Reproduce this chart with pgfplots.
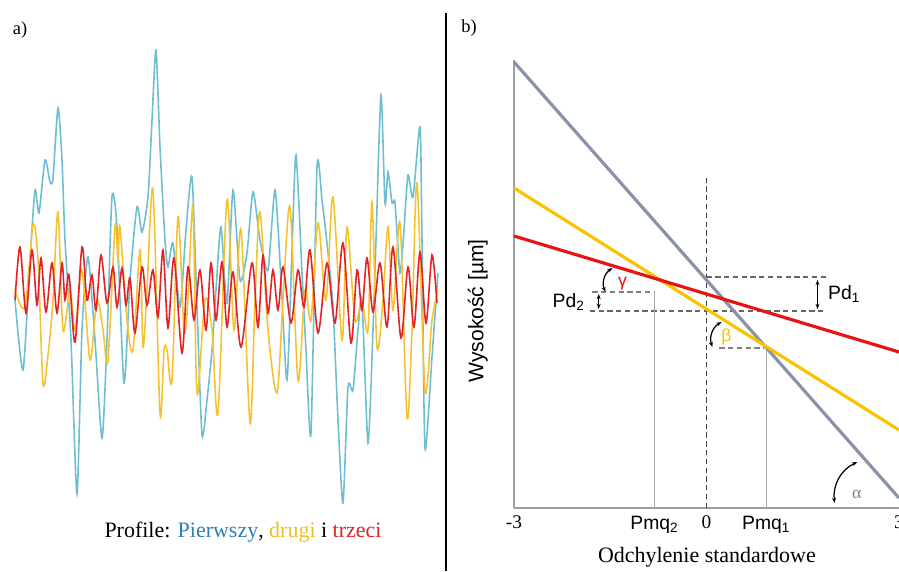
\documentclass[border=0pt]{standalone}
\usepackage{pgfplots}
\pgfplotsset{compat=1.18}
\usepackage{fontspec}
\setmainfont{Liberation Serif}
\setsansfont{Liberation Sans}
\usetikzlibrary{arrows.meta}

\definecolor{pblue}{RGB}{110,190,210}
\definecolor{pyellow}{RGB}{245,195,50}
\definecolor{pred}{RGB}{225,35,40}
\definecolor{tblue}{RGB}{45,125,185}
\definecolor{tyellow}{RGB}{240,190,40}
\definecolor{lgrey}{RGB}{138,146,168}
\definecolor{lyellow}{RGB}{250,195,0}
\definecolor{lred}{RGB}{230,20,20}

\begin{document}
\begin{tikzpicture}
\useasboundingbox (0,0) rectangle (17.98,11.42);
\clip (0,0) rectangle (17.98,11.42);

% panel a) -- pixel-like coordinates, y downwards
\begin{axis}[
    at={(0,0)}, anchor=south west,
    scale only axis, width=9cm, height=11.42cm,
    xmin=0, xmax=450, ymin=0, ymax=571, y dir=reverse,
    hide axis, clip=false
]
\addplot[pblue, line width=0.9pt, smooth, tension=0.4] coordinates {
(15,300) (23,370) (30,260) (35,190) (39,213) (45,160) (50,182) (53,178) (58,108)
(62,160) (65,240) (71,340) (77,494) (82,330) (88,257) (95,340) (102,438) (107,340)
(112,197) (117,227) (124,383) (130,280) (137,207) (142,232) (148,197) (152,120)
(156,50) (160,147) (165,240) (168,267) (173,243) (180,307) (186,230) (192,177)
(197,307) (202,435) (207,400) (212,350) (216,290) (221,227) (227,303) (233,190)
(240,280) (247,253) (253,192) (260,240) (268,270) (275,190) (281,280) (287,380)
(292,250) (296,155) (302,273) (306,350) (311,433) (317,167) (322,200) (327,243)
(333,307) (338,420) (343,503) (348,387) (353,390) (358,330) (362,300) (368,443)
(373,330) (376,240) (381,95) (385,203) (388,172) (392,203) (395,203) (400,273)
(404,230) (408,175) (413,197) (420,127) (422,240) (425,448) (432,357) (438,273)
};
\addplot[pyellow, line width=0.9pt, smooth, tension=0.5] coordinates {
(15,290) (25,307) (33,225) (38,260) (43,383) (48,355) (53,300) (58,212) (63,330)
(70,290) (75,330) (82,270) (90,360) (97,300) (103,330) (108,360) (115,227) (118,260)
(120,227) (127,320) (133,350) (140,250) (143,347) (147,290) (153,190) (160,413)
(164,350) (167,350) (172,380) (178,217) (184,330) (188,300) (193,207) (197,393)
(205,300) (212,330) (218,413) (227,200) (234,330) (241,230) (250,423) (255,300)
(260,212) (268,330) (277,393) (283,300) (290,207) (298,380) (305,290) (311,320)
(318,223) (326,300) (333,197) (342,340) (347,227) (355,320) (362,300) (368,330)
(372,202) (377,347) (383,300) (388,227) (393,310) (400,223) (407,417) (412,330)
(417,183) (425,390) (432,320) (438,290)
};
\addplot[pred, line width=0.9pt, smooth, tension=0.5] coordinates {
(15,300) (20,247) (26,313) (32,250) (37,305) (41,258) (46,312) (52,263) (57,313)
(62,263) (65,300) (69,275) (75,342) (82,247) (87,300) (92,275) (96,310) (101,255)
(107,303) (113,267) (117,307) (122,268) (126,305) (130,278) (135,333) (142,267)
(147,305) (153,270) (158,317) (163,250) (168,328) (174,258) (182,353) (188,267)
(194,320) (200,270) (206,330) (211,263) (216,320) (222,262) (227,327) (233,272)
(241,347) (252,263) (258,327) (263,255) (268,313) (273,270) (278,310) (283,267)
(291,323) (298,270) (304,307) (310,250) (318,333) (327,263) (335,323) (343,243)
(351,343) (357,270) (362,310) (367,258) (373,312) (380,263) (387,327) (393,247)
(401,338) (408,267) (414,327) (420,252) (426,323) (432,255) (437,303)
};
\node[font=\fontsize{10.5}{12}\selectfont] at (axis cs:20,30) {a)};
\node[font=\fontsize{12.5}{15}\selectfont] at (axis cs:243,532)
  {Profile: \textcolor{tblue}{Pierwszy}, \textcolor{tyellow}{drugi} i \textcolor{pred}{trzeci}};
\draw[black, line width=0.7pt] (axis cs:446,13) -- (axis cs:446,571);
\node[font=\fontsize{10.5}{12}\selectfont] at (axis cs:469,28) {b)};
\end{axis}

% panel b)
\begin{axis}[
    at={(10.28cm,1.26cm)}, anchor=south west,
    scale only axis, width=7.70cm, height=8.96cm,
    xmin=-3, xmax=3, ymin=0, ymax=4.48,
    axis x line=bottom, axis y line=left,
    axis line style={-, draw=gray!75, line width=1pt},
    ytick=\empty,
    xtick={-3,-0.81,0,0.93,3},
    xticklabels={{\raisebox{-3pt}{-3}},{\sffamily Pmq\textsubscript{2}},{\raisebox{-3pt}{0}},{\sffamily Pmq\textsubscript{1}},{\raisebox{-3pt}{3}}},
    xticklabel style={font=\fontsize{11}{13}\selectfont, anchor=north, yshift=-1pt},
    major tick length=0pt,
    xlabel={Odchylenie standardowe},
    xlabel style={at={(axis description cs:0.501,-0.109)}, anchor=center,
                  font=\rmfamily\fontsize{12.5}{15}\selectfont},
    ylabel={Wysokość [µm]},
    ylabel style={at={(axis description cs:-0.094,0.44)}, anchor=center,
                  font=\sffamily\fontsize{12}{14}\selectfont},
    clip=false
]
% guide lines
\addplot[black!75, densely dashed, line width=0.6pt] coordinates {(0,0) (0,3.32)};
\addplot[black!60, densely dashed, line width=0.6pt] coordinates {(0,2.31) (1.87,2.31)};
\addplot[black!60, densely dashed, line width=0.6pt] coordinates {(-1.82,1.97) (1.87,1.97)};
\addplot[black!50, densely dashed, line width=0.6pt] coordinates {(-1.78,2.16) (-0.81,2.16)};
\addplot[black!50, densely dashed, line width=0.6pt] coordinates {(0.20,1.60) (0.90,1.60)};
\addplot[gray!70, line width=0.6pt] coordinates {(-0.81,0) (-0.81,2.16)};
\addplot[gray!70, line width=0.6pt] coordinates {(0.93,0) (0.93,1.62)};
% three lines
\addplot[lgrey, line width=1.8pt] coordinates {(-3,4.46) (3,0.10)};
\addplot[lyellow, line width=1.8pt] coordinates {(-3,3.20) (3,0.78)};
\addplot[lred, line width=1.8pt] coordinates {(-3,2.72) (3,1.56)};
% annotations
\draw[{Stealth[length=3pt]}-{Stealth[length=3pt]}, line width=0.7pt] (axis cs:1.73,2.28) -- (axis cs:1.73,1.99);
\node[anchor=west, font=\sffamily\fontsize{11}{13}\selectfont] at (axis cs:1.80,2.14) {Pd\textsubscript{1}};
\draw[{Stealth[length=3pt]}-{Stealth[length=3pt]}, line width=0.7pt] (axis cs:-1.68,2.14) -- (axis cs:-1.68,1.99);
\node[anchor=east, font=\sffamily\fontsize{11}{13}\selectfont] at (axis cs:-1.80,2.06) {Pd\textsubscript{2}};
\draw[{Stealth[length=3pt]}-{Stealth[length=3pt]}, line width=0.7pt] (axis cs:-1.465,2.40) to[bend right=40] (axis cs:-1.574,2.16);
\node[text=lred, font=\sffamily\fontsize{10}{12}\selectfont] at (axis cs:-1.31,2.24) {γ};
\draw[{Stealth[length=3pt]}-{Stealth[length=3pt]}, line width=0.7pt] (axis cs:0.234,1.86) to[bend right=40] (axis cs:0.093,1.61);
\node[text=lyellow, font=\sffamily\fontsize{10}{12}\selectfont] at (axis cs:0.31,1.71) {β};
\draw[{Stealth[length=3pt]}-{Stealth[length=3pt]}, line width=0.7pt] (axis cs:2.35,0.46) to[bend right=35] (axis cs:1.995,0.05);
\node[text=gray, font=\rmfamily\fontsize{10}{12}\selectfont] at (axis cs:2.34,0.14) {α};
\end{axis}
\end{tikzpicture}
\end{document}
